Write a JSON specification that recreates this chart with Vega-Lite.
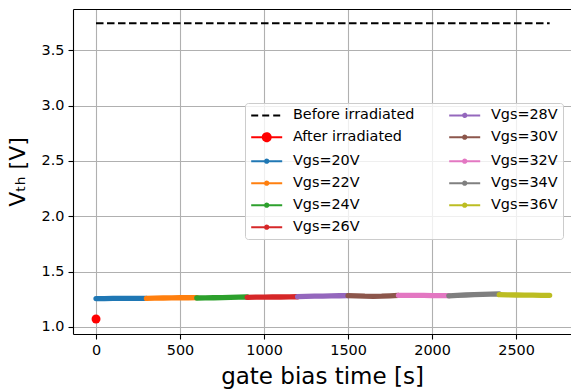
{
  "$schema": "https://vega.github.io/schema/vega-lite/v6.json",
  "width": 498,
  "height": 325,
  "autosize": {"type": "none"},
  "padding": {"left": 73, "top": 9, "right": 0, "bottom": 58},
  "background": "white",
  "config": {
    "view": {"stroke": null},
    "font": "DejaVu Sans",
    "axis": {
      "labelFont": "DejaVu Sans",
      "labelFontSize": 14.4,
      "labelColor": "#000000",
      "tickColor": "#000000",
      "tickSize": 5,
      "tickWidth": 1.1,
      "domainColor": "#000000",
      "domainWidth": 1.1,
      "gridColor": "#b0b0b0",
      "gridWidth": 1.1,
      "titleFont": "DejaVu Sans",
      "titleFontWeight": "normal",
      "titleColor": "#000000",
      "titleFontSize": 23,
      "labelPadding": 4
    }
  },
  "data": {
    "values": [
      {"s": "Before irradiated", "t": 0, "v": 3.745},
      {"s": "Before irradiated", "t": 2700, "v": 3.745},
      {"s": "After irradiated", "t": 0, "v": 1.072},
      {"s": "Vgs=20V", "t": 0, "v": 1.257},
      {"s": "Vgs=20V", "t": 50, "v": 1.257},
      {"s": "Vgs=20V", "t": 100, "v": 1.258},
      {"s": "Vgs=20V", "t": 150, "v": 1.258},
      {"s": "Vgs=20V", "t": 200, "v": 1.258},
      {"s": "Vgs=20V", "t": 250, "v": 1.258},
      {"s": "Vgs=20V", "t": 300, "v": 1.259},
      {"s": "Vgs=22V", "t": 300, "v": 1.258},
      {"s": "Vgs=22V", "t": 350, "v": 1.260},
      {"s": "Vgs=22V", "t": 400, "v": 1.262},
      {"s": "Vgs=22V", "t": 450, "v": 1.263},
      {"s": "Vgs=22V", "t": 500, "v": 1.264},
      {"s": "Vgs=22V", "t": 550, "v": 1.264},
      {"s": "Vgs=22V", "t": 600, "v": 1.265},
      {"s": "Vgs=24V", "t": 600, "v": 1.262},
      {"s": "Vgs=24V", "t": 650, "v": 1.263},
      {"s": "Vgs=24V", "t": 700, "v": 1.264},
      {"s": "Vgs=24V", "t": 750, "v": 1.266},
      {"s": "Vgs=24V", "t": 800, "v": 1.267},
      {"s": "Vgs=24V", "t": 850, "v": 1.269},
      {"s": "Vgs=24V", "t": 900, "v": 1.271},
      {"s": "Vgs=26V", "t": 900, "v": 1.268},
      {"s": "Vgs=26V", "t": 950, "v": 1.269},
      {"s": "Vgs=26V", "t": 1000, "v": 1.270},
      {"s": "Vgs=26V", "t": 1050, "v": 1.271},
      {"s": "Vgs=26V", "t": 1100, "v": 1.271},
      {"s": "Vgs=26V", "t": 1150, "v": 1.272},
      {"s": "Vgs=26V", "t": 1200, "v": 1.273},
      {"s": "Vgs=28V", "t": 1200, "v": 1.274},
      {"s": "Vgs=28V", "t": 1250, "v": 1.276},
      {"s": "Vgs=28V", "t": 1300, "v": 1.278},
      {"s": "Vgs=28V", "t": 1350, "v": 1.279},
      {"s": "Vgs=28V", "t": 1400, "v": 1.281},
      {"s": "Vgs=28V", "t": 1450, "v": 1.282},
      {"s": "Vgs=28V", "t": 1500, "v": 1.283},
      {"s": "Vgs=30V", "t": 1500, "v": 1.283},
      {"s": "Vgs=30V", "t": 1550, "v": 1.281},
      {"s": "Vgs=30V", "t": 1600, "v": 1.278},
      {"s": "Vgs=30V", "t": 1650, "v": 1.277},
      {"s": "Vgs=30V", "t": 1700, "v": 1.278},
      {"s": "Vgs=30V", "t": 1750, "v": 1.281},
      {"s": "Vgs=30V", "t": 1800, "v": 1.285},
      {"s": "Vgs=32V", "t": 1800, "v": 1.286},
      {"s": "Vgs=32V", "t": 1850, "v": 1.286},
      {"s": "Vgs=32V", "t": 1900, "v": 1.285},
      {"s": "Vgs=32V", "t": 1950, "v": 1.285},
      {"s": "Vgs=32V", "t": 2000, "v": 1.284},
      {"s": "Vgs=32V", "t": 2050, "v": 1.284},
      {"s": "Vgs=32V", "t": 2100, "v": 1.283},
      {"s": "Vgs=34V", "t": 2100, "v": 1.281},
      {"s": "Vgs=34V", "t": 2150, "v": 1.285},
      {"s": "Vgs=34V", "t": 2200, "v": 1.289},
      {"s": "Vgs=34V", "t": 2250, "v": 1.292},
      {"s": "Vgs=34V", "t": 2300, "v": 1.295},
      {"s": "Vgs=34V", "t": 2350, "v": 1.297},
      {"s": "Vgs=34V", "t": 2400, "v": 1.298},
      {"s": "Vgs=36V", "t": 2400, "v": 1.292},
      {"s": "Vgs=36V", "t": 2450, "v": 1.290},
      {"s": "Vgs=36V", "t": 2500, "v": 1.289},
      {"s": "Vgs=36V", "t": 2550, "v": 1.288},
      {"s": "Vgs=36V", "t": 2600, "v": 1.287},
      {"s": "Vgs=36V", "t": 2650, "v": 1.286},
      {"s": "Vgs=36V", "t": 2700, "v": 1.286}
    ]
  },
  "resolve": {"axis": {"x": "independent"}},
  "layer": [
    {
      "transform": [{"filter": "datum.s === 'Before irradiated'"}],
      "mark": {"type": "line", "strokeDash": [7.5, 3.5], "strokeWidth": 2},
      "encoding": {
        "x": {
          "field": "t", "type": "quantitative",
          "scale": {"domain": [-137, 2827], "nice": false, "zero": false},
          "axis": {"values": [0, 500, 1000, 1500, 2000, 2500], "format": "d", "title": "gate bias time [s]", "titlePadding": 9, "grid": true}
        },
        "y": {
          "field": "v", "type": "quantitative",
          "scale": {"domain": [0.9365, 3.8735], "nice": false, "zero": false},
          "axis": {"values": [1, 1.5, 2, 2.5, 3, 3.5], "format": ".1f", "title": "Vₜₕ [V]", "titleFontSize": 22, "titlePadding": 12, "grid": true}
        },
        "color": {
          "field": "s", "type": "nominal",
          "scale": {
            "domain": ["Before irradiated", "After irradiated", "Vgs=20V", "Vgs=22V", "Vgs=24V", "Vgs=26V", "Vgs=28V", "Vgs=30V", "Vgs=32V", "Vgs=34V", "Vgs=36V"],
            "range": ["#000000", "#ff0000", "#1f77b4", "#ff7f0e", "#2ca02c", "#d62728", "#9467bd", "#8c564b", "#e377c2", "#7f7f7f", "#bcbd22"]
          },
          "legend": {
            "orient": "none",
            "legendX": 172,
            "legendY": 94,
            "columns": 2,
            "title": null,
            "labelFont": "DejaVu Sans",
            "labelFontSize": 14.4,
            "labelColor": "#000000",
            "symbolSize": 100,
            "symbolStrokeWidth": 2,
            "symbolOffset": 9.5,
            "labelOffset": 19,
            "padding": 5,
            "rowPadding": 7,
            "columnPadding": 30,
            "fillColor": "rgba(255,255,255,0.8)",
            "strokeColor": "#cccccc",
            "cornerRadius": 3,
            "encode": {
              "symbols": {
                "update": {
                  "shape": {"signal": "datum.value === 'Before irradiated' ? 'M-3.1,0H3.1' : datum.value === 'After irradiated' ? 'M-3.1,0H3.1M-0.8,0A0.8,0.8,0,1,1,0.8,0A0.8,0.8,0,1,1,-0.8,0' : 'M-3.1,0H3.1M-0.33,0A0.33,0.33,0,1,1,0.33,0A0.33,0.33,0,1,1,-0.33,0'"},
                  "strokeDash": {"signal": "datum.value === 'Before irradiated' ? [7, 4] : [1, 0]"},
                  "fill": {"scale": "color", "field": "value"},
                  "stroke": {"scale": "color", "field": "value"},
                  "strokeWidth": {"value": 2},
                  "opacity": {"value": 1}
                }
              }
            }
          }
        }
      }
    },
    {
      "transform": [{"filter": "datum.s === 'After irradiated'"}],
      "mark": {"type": "point", "filled": true, "size": 80, "opacity": 1},
      "encoding": {
        "x": {
          "field": "t", "type": "quantitative",
          "axis": {"orient": "top", "labels": false, "ticks": false, "grid": false, "title": null, "domain": true}
        },
        "y": {"field": "v", "type": "quantitative"},
        "color": {"field": "s", "type": "nominal"}
      }
    },
    {
      "transform": [{"filter": "test(/^Vgs/, datum.s)"}],
      "mark": {"type": "line", "strokeWidth": 5.3, "strokeCap": "round", "strokeJoin": "round"},
      "encoding": {
        "x": {"field": "t", "type": "quantitative", "axis": null},
        "y": {"field": "v", "type": "quantitative"},
        "color": {"field": "s", "type": "nominal"}
      }
    }
  ]
}
